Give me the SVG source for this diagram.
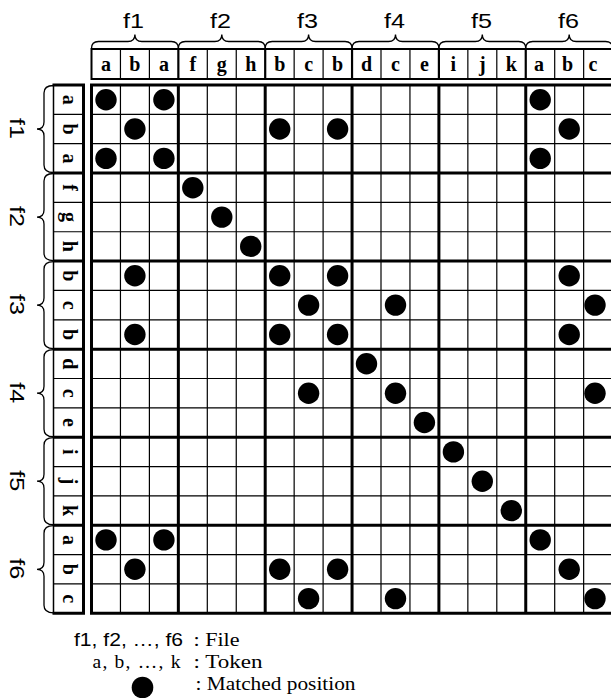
<svg xmlns="http://www.w3.org/2000/svg" width="611" height="698" viewBox="0 0 611 698">
<style>
.thin{fill:none;stroke:#000;stroke-width:1.2}
.thick{fill:none;stroke:#000;stroke-width:3}
.hthick{fill:none;stroke:#000;stroke-width:2.2}
.brace{fill:none;stroke:#000;stroke-width:1.3}
.tok{font-family:"Liberation Serif","Times New Roman",serif;font-weight:bold;font-size:20px;text-anchor:middle;fill:#000}
.file{font-family:"Liberation Sans",Arial,sans-serif;font-size:21px;text-anchor:middle;fill:#000}
.leg{font-family:"Liberation Serif","Times New Roman",serif;font-size:19.5px;fill:#000}
.legs{font-family:"Liberation Sans",Arial,sans-serif;font-size:18px;fill:#000}
.dot{fill:#000}
</style>
<rect x="0" y="0" width="611" height="698" fill="#fff"/>

<g id="col-braces">
<path class="brace" d="M91.5,48.5 Q91.5,41.5 98.5,41.5 H127.9 Q134.9,41.5 134.9,34.5 Q134.9,41.5 141.9,41.5 H171.35 Q178.35,41.5 178.35,48.5"/>
<path class="brace" d="M178.35,48.5 Q178.35,41.5 185.35,41.5 H214.8 Q221.8,41.5 221.8,34.5 Q221.8,41.5 228.8,41.5 H258.2 Q265.2,41.5 265.2,48.5"/>
<path class="brace" d="M265.2,48.5 Q265.2,41.5 272.2,41.5 H301.6 Q308.6,41.5 308.6,34.5 Q308.6,41.5 315.6,41.5 H345.05 Q352.05,41.5 352.05,48.5"/>
<path class="brace" d="M352.05,48.5 Q352.05,41.5 359.05,41.5 H388.5 Q395.5,41.5 395.5,34.5 Q395.5,41.5 402.5,41.5 H431.9 Q438.9,41.5 438.9,48.5"/>
<path class="brace" d="M438.9,48.5 Q438.9,41.5 445.9,41.5 H475.3 Q482.3,41.5 482.3,34.5 Q482.3,41.5 489.3,41.5 H518.75 Q525.75,41.5 525.75,48.5"/>
<path class="brace" d="M525.75,48.5 Q525.75,41.5 532.75,41.5 H562.2 Q569.2,41.5 569.2,34.5 Q569.2,41.5 576.2,41.5 H605.6 Q612.6,41.5 612.6,48.5"/>
<text class="file" x="133.5" y="27.5" textLength="21" lengthAdjust="spacingAndGlyphs">f1</text>
<text class="file" x="220.5" y="27.5" textLength="21" lengthAdjust="spacingAndGlyphs">f2</text>
<text class="file" x="307.5" y="27.5" textLength="21" lengthAdjust="spacingAndGlyphs">f3</text>
<text class="file" x="394.5" y="27.5" textLength="21" lengthAdjust="spacingAndGlyphs">f4</text>
<text class="file" x="481.5" y="27.5" textLength="21" lengthAdjust="spacingAndGlyphs">f5</text>
<text class="file" x="568.5" y="27.5" textLength="21" lengthAdjust="spacingAndGlyphs">f6</text>
</g>

<g id="row-braces">
<path class="brace" d="M53.5,85.5 Q44,85.5 44,93 V122 Q44,129 37,129 Q44,129 44,136 V165 Q44,172.5 53.5,172.5"/>
<path class="brace" d="M53.5,173.5 Q44,173.5 44,181 V210.1 Q44,217.1 37,217.1 Q44,217.1 44,224.1 V253.1 Q44,260.6 53.5,260.6"/>
<path class="brace" d="M53.5,261.6 Q44,261.6 44,269.1 V298.1 Q44,305.1 37,305.1 Q44,305.1 44,312.1 V341.1 Q44,348.6 53.5,348.6"/>
<path class="brace" d="M53.5,349.6 Q44,349.6 44,357.1 V386.2 Q44,393.2 37,393.2 Q44,393.2 44,400.2 V429.2 Q44,436.7 53.5,436.7"/>
<path class="brace" d="M53.5,437.7 Q44,437.7 44,445.2 V474.2 Q44,481.2 37,481.2 Q44,481.2 44,488.2 V517.2 Q44,524.7 53.5,524.7"/>
<path class="brace" d="M53.5,525.7 Q44,525.7 44,533.2 V562.3 Q44,569.3 37,569.3 Q44,569.3 44,576.3 V605.3 Q44,612.8 53.5,612.8"/>
<text class="file" transform="translate(9.5,128.5) rotate(90)" textLength="21" lengthAdjust="spacingAndGlyphs">f1</text>
<text class="file" transform="translate(9.5,216.6) rotate(90)" textLength="21" lengthAdjust="spacingAndGlyphs">f2</text>
<text class="file" transform="translate(9.5,304.6) rotate(90)" textLength="21" lengthAdjust="spacingAndGlyphs">f3</text>
<text class="file" transform="translate(9.5,392.7) rotate(90)" textLength="21" lengthAdjust="spacingAndGlyphs">f4</text>
<text class="file" transform="translate(9.5,480.7) rotate(90)" textLength="21" lengthAdjust="spacingAndGlyphs">f5</text>
<text class="file" transform="translate(9.5,568.8) rotate(90)" textLength="21" lengthAdjust="spacingAndGlyphs">f6</text>
</g>

<g id="col-headers">
<rect x="91.5" y="49" width="521.1" height="30" fill="#fff" stroke="#000" stroke-width="2"/>
<path class="thin" d="M120.45,49V79M149.4,49V79M207.3,49V79M236.25,49V79M294.15,49V79M323.1,49V79M381,49V79M409.95,49V79M467.85,49V79M496.8,49V79M554.7,49V79M583.65,49V79"/>
<path class="hthick" d="M178.35,49V79M265.2,49V79M352.05,49V79M438.9,49V79M525.75,49V79"/>
<text class="tok" x="106" y="70.7">a</text>
<text class="tok" x="134.9" y="70.7">b</text>
<text class="tok" x="163.9" y="70.7">a</text>
<text class="tok" x="192.8" y="70.7">f</text>
<text class="tok" x="221.8" y="70.7">g</text>
<text class="tok" x="250.7" y="70.7">h</text>
<text class="tok" x="279.7" y="70.7">b</text>
<text class="tok" x="308.6" y="70.7">c</text>
<text class="tok" x="337.6" y="70.7">b</text>
<text class="tok" x="366.5" y="70.7">d</text>
<text class="tok" x="395.5" y="70.7">c</text>
<text class="tok" x="424.4" y="70.7">e</text>
<text class="tok" x="453.4" y="70.7">i</text>
<text class="tok" x="482.3" y="70.7">j</text>
<text class="tok" x="511.3" y="70.7">k</text>
<text class="tok" x="539" y="70.7">a</text>
<text class="tok" x="567.5" y="70.7">b</text>
<text class="tok" x="593" y="70.7">c</text>
</g>

<g id="row-headers">
<rect x="53.5" y="85" width="30" height="528.3" fill="#fff"/>
<path class="thin" d="M53.5,114.35H83.5M53.5,143.7H83.5M53.5,202.4H83.5M53.5,231.75H83.5M53.5,290.45H83.5M53.5,319.8H83.5M53.5,378.5H83.5M53.5,407.85H83.5M53.5,466.55H83.5M53.5,495.9H83.5M53.5,554.6H83.5M53.5,583.95H83.5"/>
<path fill="none" stroke="#000" stroke-width="1.5" d="M53.5,85V613.3"/>
<path class="thick" d="M52.5,85H83.5M53.5,173.05H83.5M53.5,261.1H83.5M53.5,349.15H83.5M53.5,437.2H83.5M53.5,525.25H83.5M52.5,613.3H83.5M83.5,83.5V614.8"/>
<g class="tok">
<text transform="translate(63,99.7) rotate(90)">a</text>
<text transform="translate(63,129) rotate(90)">b</text>
<text transform="translate(63,158.4) rotate(90)">a</text>
<text transform="translate(63,187.7) rotate(90)">f</text>
<text transform="translate(63,217.1) rotate(90)">g</text>
<text transform="translate(63,246.4) rotate(90)">h</text>
<text transform="translate(63,275.8) rotate(90)">b</text>
<text transform="translate(63,305.1) rotate(90)">c</text>
<text transform="translate(63,334.5) rotate(90)">b</text>
<text transform="translate(63,363.8) rotate(90)">d</text>
<text transform="translate(63,393.2) rotate(90)">c</text>
<text transform="translate(63,422.5) rotate(90)">e</text>
<text transform="translate(63,451.9) rotate(90)">i</text>
<text transform="translate(63,481.2) rotate(90)">j</text>
<text transform="translate(63,510.6) rotate(90)">k</text>
<text transform="translate(63,539.9) rotate(90)">a</text>
<text transform="translate(63,569.3) rotate(90)">b</text>
<text transform="translate(63,598.6) rotate(90)">c</text>
</g>
</g>

<g id="grid">
<rect x="91.5" y="85" width="521.1" height="528.3" fill="#fff"/>
<path class="thin" d="M91.5,114.35H612.6M91.5,143.7H612.6M91.5,202.4H612.6M91.5,231.75H612.6M91.5,290.45H612.6M91.5,319.8H612.6M91.5,378.5H612.6M91.5,407.85H612.6M91.5,466.55H612.6M91.5,495.9H612.6M91.5,554.6H612.6M91.5,583.95H612.6"/>
<path class="thin" d="M120.45,85V613.3M149.4,85V613.3M207.3,85V613.3M236.25,85V613.3M294.15,85V613.3M323.1,85V613.3M381,85V613.3M409.95,85V613.3M467.85,85V613.3M496.8,85V613.3M554.7,85V613.3M583.65,85V613.3"/>
<path class="thick" d="M90,85H614M91.5,173.05H612.6M91.5,261.1H612.6M91.5,349.15H612.6M91.5,437.2H612.6M91.5,525.25H612.6M90,613.3H614M91.5,85V613.3M178.35,85V613.3M265.2,85V613.3M352.05,85V613.3M438.9,85V613.3M525.75,85V613.3M612.6,85V613.3"/>
</g>

<g id="matches">
<circle class="dot" cx="106" cy="99.7" r="10.7"/>
<circle class="dot" cx="163.9" cy="99.7" r="10.7"/>
<circle class="dot" cx="540.2" cy="99.7" r="10.7"/>
<circle class="dot" cx="134.9" cy="129" r="10.7"/>
<circle class="dot" cx="279.7" cy="129" r="10.7"/>
<circle class="dot" cx="337.6" cy="129" r="10.7"/>
<circle class="dot" cx="569.2" cy="129" r="10.7"/>
<circle class="dot" cx="106" cy="158.4" r="10.7"/>
<circle class="dot" cx="163.9" cy="158.4" r="10.7"/>
<circle class="dot" cx="540.2" cy="158.4" r="10.7"/>
<circle class="dot" cx="192.8" cy="187.7" r="10.7"/>
<circle class="dot" cx="221.8" cy="217.1" r="10.7"/>
<circle class="dot" cx="250.7" cy="246.4" r="10.7"/>
<circle class="dot" cx="134.9" cy="275.8" r="10.7"/>
<circle class="dot" cx="279.7" cy="275.8" r="10.7"/>
<circle class="dot" cx="337.6" cy="275.8" r="10.7"/>
<circle class="dot" cx="569.2" cy="275.8" r="10.7"/>
<circle class="dot" cx="308.6" cy="305.1" r="10.7"/>
<circle class="dot" cx="395.5" cy="305.1" r="10.7"/>
<circle class="dot" cx="595" cy="305.1" r="10.7"/>
<circle class="dot" cx="134.9" cy="334.5" r="10.7"/>
<circle class="dot" cx="279.7" cy="334.5" r="10.7"/>
<circle class="dot" cx="337.6" cy="334.5" r="10.7"/>
<circle class="dot" cx="569.2" cy="334.5" r="10.7"/>
<circle class="dot" cx="366.5" cy="363.8" r="10.7"/>
<circle class="dot" cx="308.6" cy="393.2" r="10.7"/>
<circle class="dot" cx="395.5" cy="393.2" r="10.7"/>
<circle class="dot" cx="595" cy="393.2" r="10.7"/>
<circle class="dot" cx="424.4" cy="422.5" r="10.7"/>
<circle class="dot" cx="453.4" cy="451.9" r="10.7"/>
<circle class="dot" cx="482.3" cy="481.2" r="10.7"/>
<circle class="dot" cx="511.3" cy="510.6" r="10.7"/>
<circle class="dot" cx="106" cy="539.9" r="10.7"/>
<circle class="dot" cx="163.9" cy="539.9" r="10.7"/>
<circle class="dot" cx="540.2" cy="539.9" r="10.7"/>
<circle class="dot" cx="134.9" cy="569.3" r="10.7"/>
<circle class="dot" cx="279.7" cy="569.3" r="10.7"/>
<circle class="dot" cx="337.6" cy="569.3" r="10.7"/>
<circle class="dot" cx="569.2" cy="569.3" r="10.7"/>
<circle class="dot" cx="308.6" cy="598.6" r="10.7"/>
<circle class="dot" cx="395.5" cy="598.6" r="10.7"/>
<circle class="dot" cx="595" cy="598.6" r="10.7"/>
</g>

<g id="legend">
<text class="legs" x="74" y="646" textLength="109" lengthAdjust="spacingAndGlyphs">f1, f2, …, f6</text>
<text class="leg" x="193.5" y="646" textLength="46" lengthAdjust="spacingAndGlyphs">: File</text>
<text class="leg" x="92.5" y="667.5" textLength="88" lengthAdjust="spacing">a, b, …, k</text>
<text class="leg" x="193.5" y="667.5" textLength="69" lengthAdjust="spacingAndGlyphs">: Token</text>
<circle class="dot" cx="142.5" cy="687.5" r="10.8"/>
<text class="leg" x="195.5" y="689.5" textLength="160" lengthAdjust="spacingAndGlyphs">: Matched position</text>
</g>
</svg>
